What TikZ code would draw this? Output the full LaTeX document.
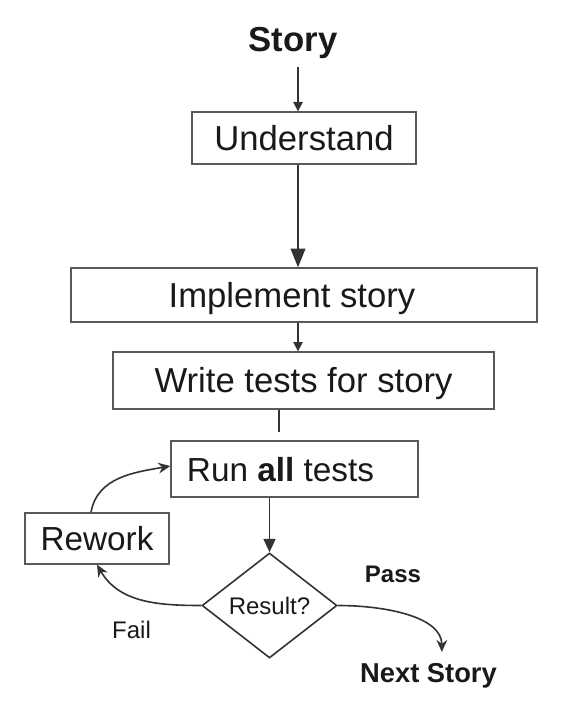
\documentclass[tikz,border=0pt]{standalone}
\usepackage{fontspec}
\setmainfont{Liberation Sans}
\usetikzlibrary{arrows.meta,shapes.geometric}
\begin{document}
\begin{tikzpicture}[x=0.75pt,y=-0.75pt,
  box/.style={draw=black!65, line width=1pt, rectangle, inner sep=0pt, text=black!90},
  big/.style={font=\fontsize{26}{30}\selectfont, text height=18.7pt, text depth=0pt},
  mid/.style={font=\fontsize{25}{29}\selectfont, text height=18pt, text depth=0pt},
  conn/.style={draw=black!80, line width=1.2pt},
  smallhead/.style={-{Triangle[length=7pt,width=7pt]}},
  midhead/.style={-{Triangle[length=10pt,width=9pt]}},
  bighead/.style={-{Triangle[length=14pt,width=11pt]}},
  curvehead/.style={-{Stealth[length=9pt,width=8pt]}},
  lbl/.style={inner sep=0pt, anchor=base, text=black!90}]
\useasboundingbox (0,0) rectangle (560,712);
% nodes
\node[lbl, font=\bfseries\fontsize{26}{30}\selectfont] (story) at (293,52) {Story};
\node[box, big, minimum width=168pt, minimum height=39pt] (und) at (304,138) {Understand};
\node[box, big, minimum width=349.5pt, minimum height=40.5pt] (impl) at (304,295) {Implement story\hspace*{18pt}\kern0pt};
\node[box, big, minimum width=285.75pt, minimum height=42.75pt] (write) at (303.5,380.5) {Write tests for story};
\node[box, mid, minimum width=185.25pt, minimum height=42pt] (run) at (294.5,469) {Run \textbf{all} tests\hspace*{21pt}\kern0pt};
\node[box, mid, minimum width=108pt, minimum height=38.25pt] (rew) at (97,538.5) {Rework};
\node[diamond, draw=black!80, line width=1.2pt, inner sep=0pt, minimum width=101.25pt, minimum height=78.75pt,
      font=\fontsize{18}{21}\selectfont, text=black!90] (dia) at (269.5,605.5) {Result?};
\node[lbl, font=\bfseries\fontsize{18}{21}\selectfont] (pass) at (393,582) {Pass};
\node[lbl, font=\fontsize{18}{21}\selectfont] (fail) at (131.5,638) {Fail};
\node[lbl, font=\bfseries\fontsize{20.5}{24}\selectfont] (next) at (428.5,682) {Next Story};
% helper coordinates
\coordinate (ax) at (298,0);
\coordinate (bx) at (279,0);
% connectors
\draw[conn,smallhead,shorten <=6pt] (ax |- story.south) -- (ax |- und.north);
\draw[conn,bighead] (ax |- und.south) -- (ax |- impl.north);
\draw[conn,smallhead] (ax |- impl.south) -- (ax |- write.north);
\draw[conn,shorten >=6pt] (bx |- write.south) -- (bx |- run.north);
\draw[conn,midhead] (dia.north |- run.south) -- (dia.north);
\draw[conn,curvehead] ([xshift=-4.5pt]rew.north) to[out=80,in=190] ([yshift=2.25pt]run.west);
\draw[conn,curvehead] (dia.west) to[out=180,in=-60] (rew.south);
\draw[conn,curvehead,shorten >=8pt] (dia.east) to[out=0,in=90] ([xshift=10pt]next.north);
\end{tikzpicture}
\end{document}
